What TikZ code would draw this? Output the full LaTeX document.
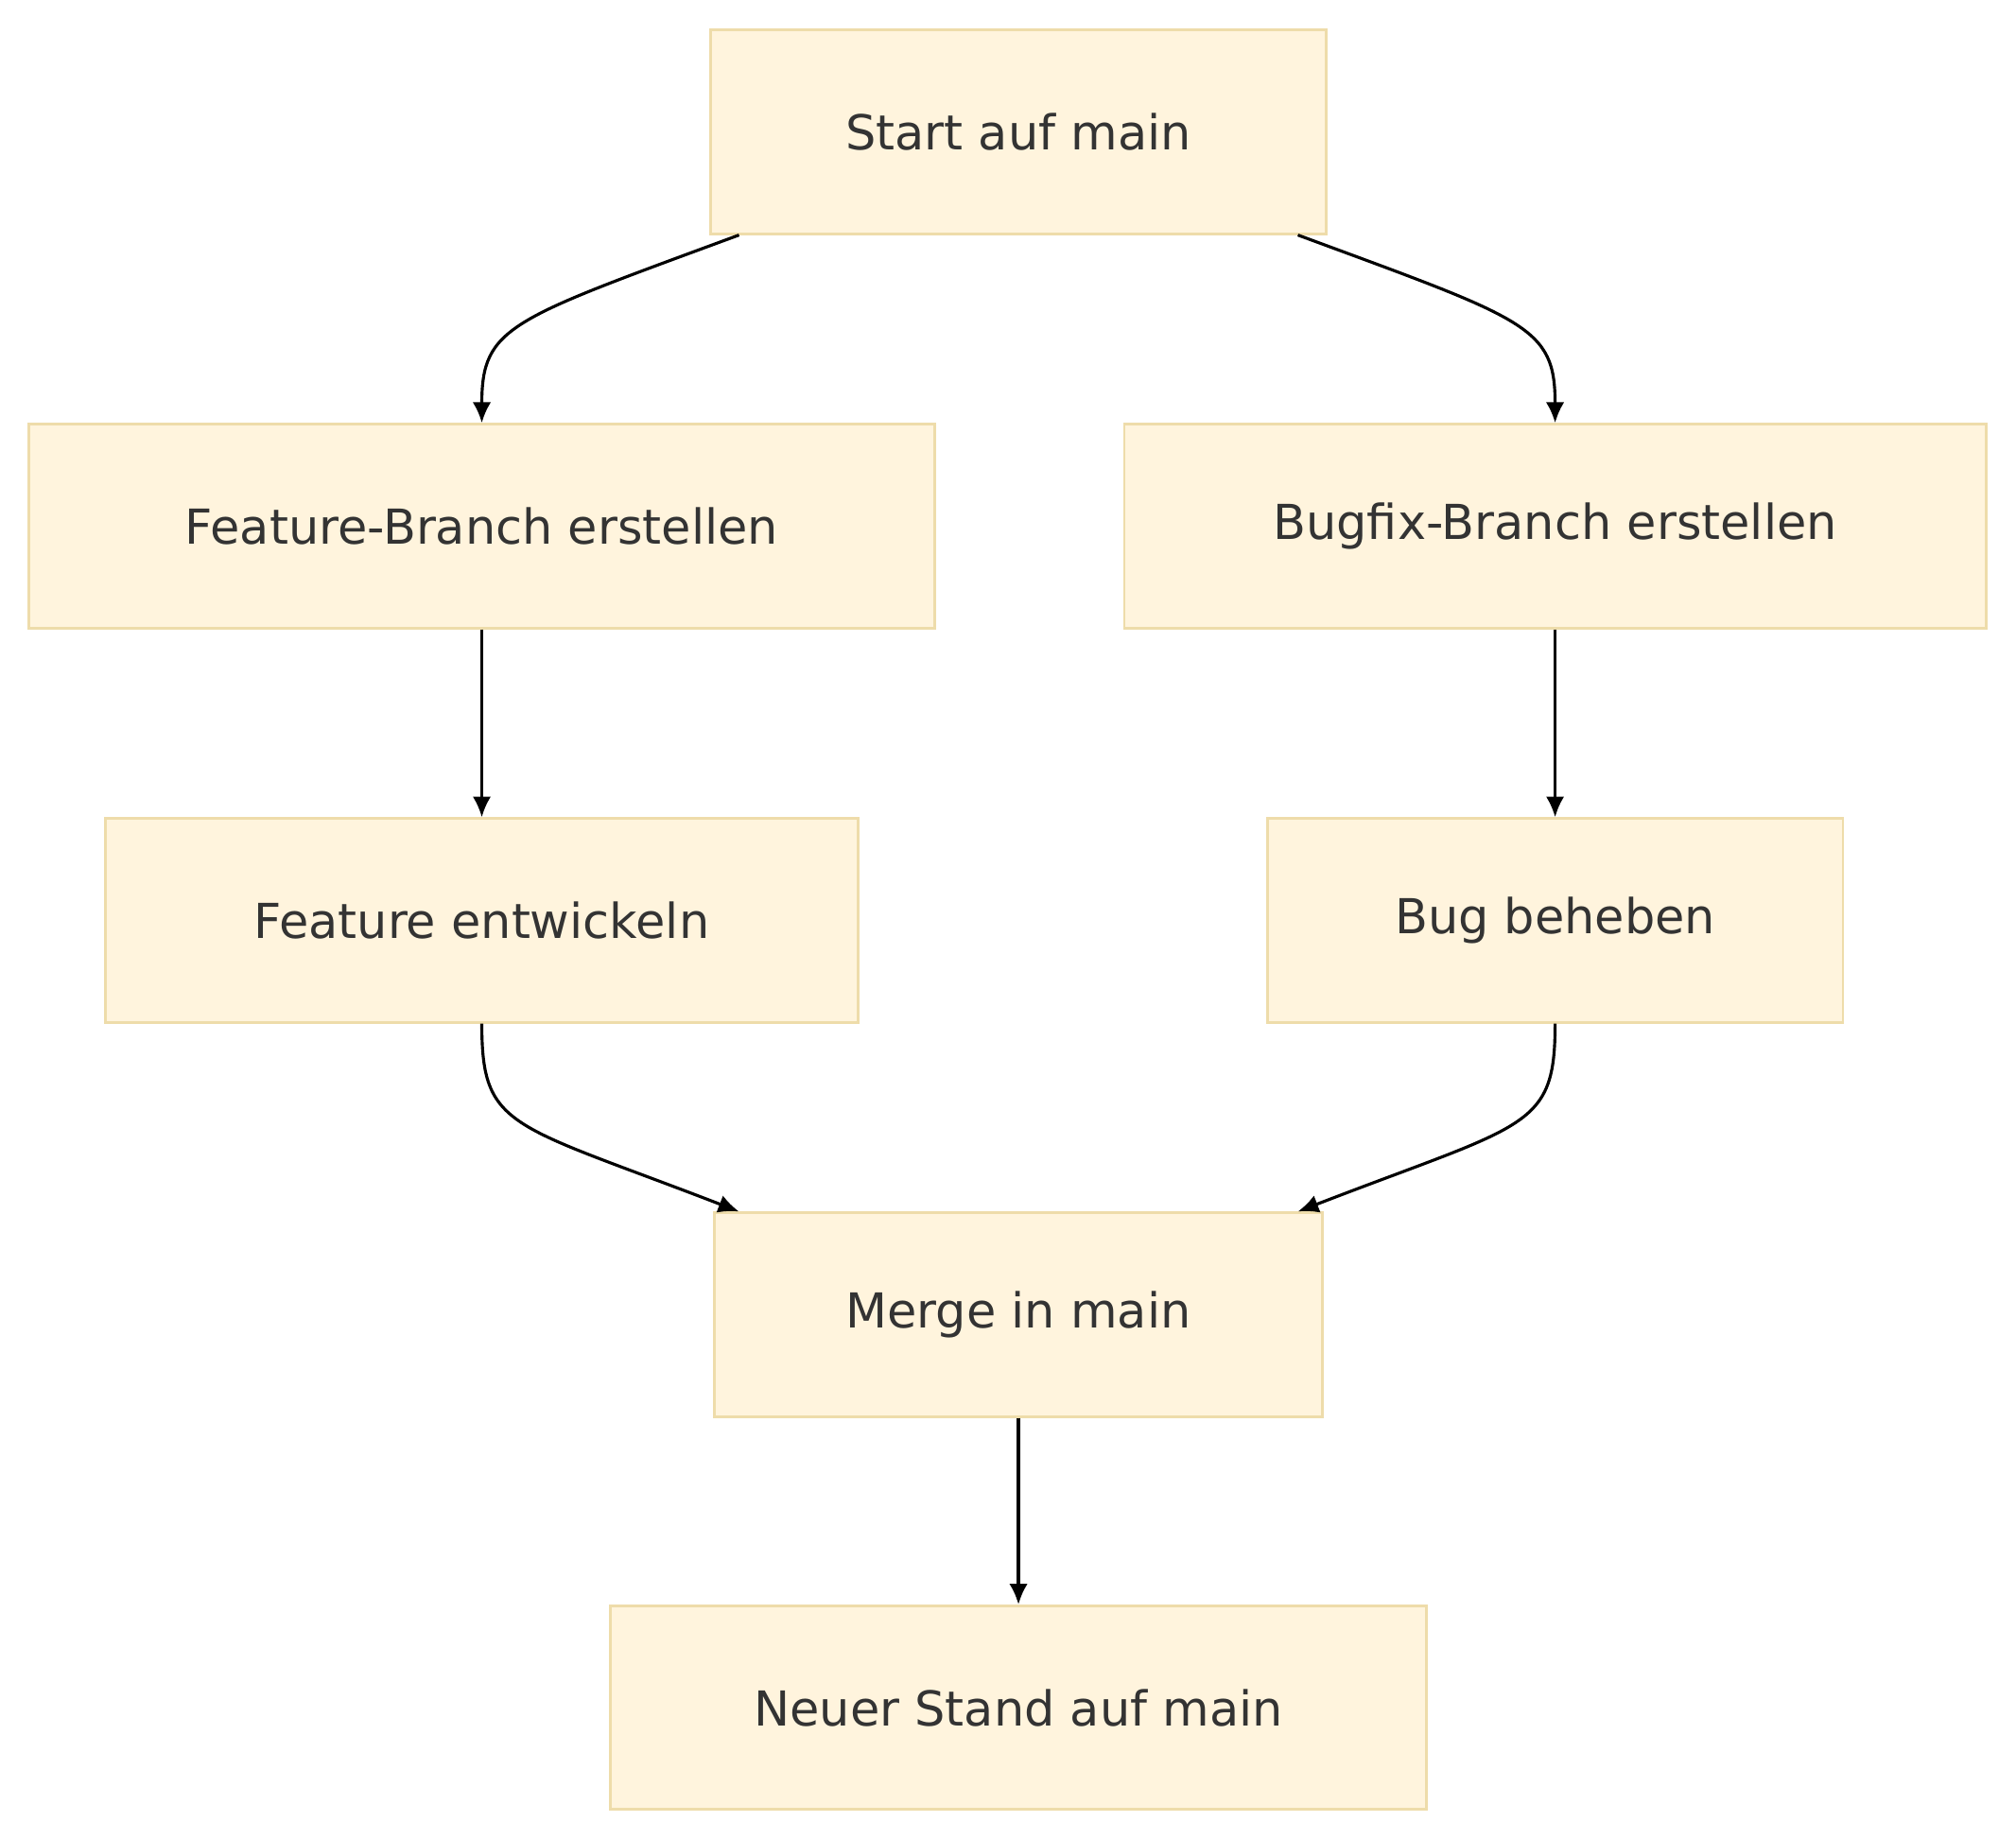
\documentclass[tikz,border=0pt]{standalone}
\usepackage{fontspec}
\setmainfont{DejaVu Sans}
\usetikzlibrary{arrows.meta, positioning}
\definecolor{boxfill}{HTML}{FFF4DD}
\definecolor{boxline}{HTML}{EEDCAA}
\definecolor{txt}{HTML}{333333}

\begin{document}
\begin{tikzpicture}[x=0.02cm, y=-0.02cm,
  box/.style={rectangle, draw=boxline, fill=boxfill, line width=1.2pt,
    text=txt, font=\fontsize{21}{25}\selectfont, inner sep=0pt, minimum height=3.12cm},
  flow/.style={-{Latex[length=9pt,width=8pt]}, line width=1.3pt, black}]

  \useasboundingbox (0,0) rectangle (1544,1408);

  \node[box, minimum width=9.44cm]  (start)   at (780,101)  {Start auf main};
  \node[box, minimum width=13.88cm] (featbr)  at (369,403)  {Feature-Branch erstellen};
  \node[box, minimum width=13.2cm]  (bugbr)   at (1191,403) {Bugfix-Branch erstellen};
  \node[box, minimum width=11.54cm] (featdev) at (369,705)  {Feature entwickeln};
  \node[box, minimum width=8.82cm]  (bugfix)  at (1191,705) {Bug beheben};
  \node[box, minimum width=9.32cm]  (merge)   at (780,1007) {Merge in main};
  \node[box, minimum width=12.5cm]  (neu)     at (780,1308) {Neuer Stand auf main};

  % branches
  \draw[flow] ([xshift=0.46cm]start.south west) .. controls (390,245) and (369,250) .. (featbr.north);
  \draw[flow] ([xshift=-0.46cm]start.south east) .. controls (1170,245) and (1191,250) .. (bugbr.north);
  \draw[flow] (featbr) -- (featdev);
  \draw[flow] (bugbr) -- (bugfix);
  % merge
  \draw[flow] (featdev.south) .. controls (369,865) and (390,860) .. ([xshift=0.4cm]merge.north west);
  \draw[flow] (bugfix.south) .. controls (1191,865) and (1170,860) .. ([xshift=-0.4cm]merge.north east);
  \draw[flow] (merge) -- (neu);
\end{tikzpicture}
\end{document}
